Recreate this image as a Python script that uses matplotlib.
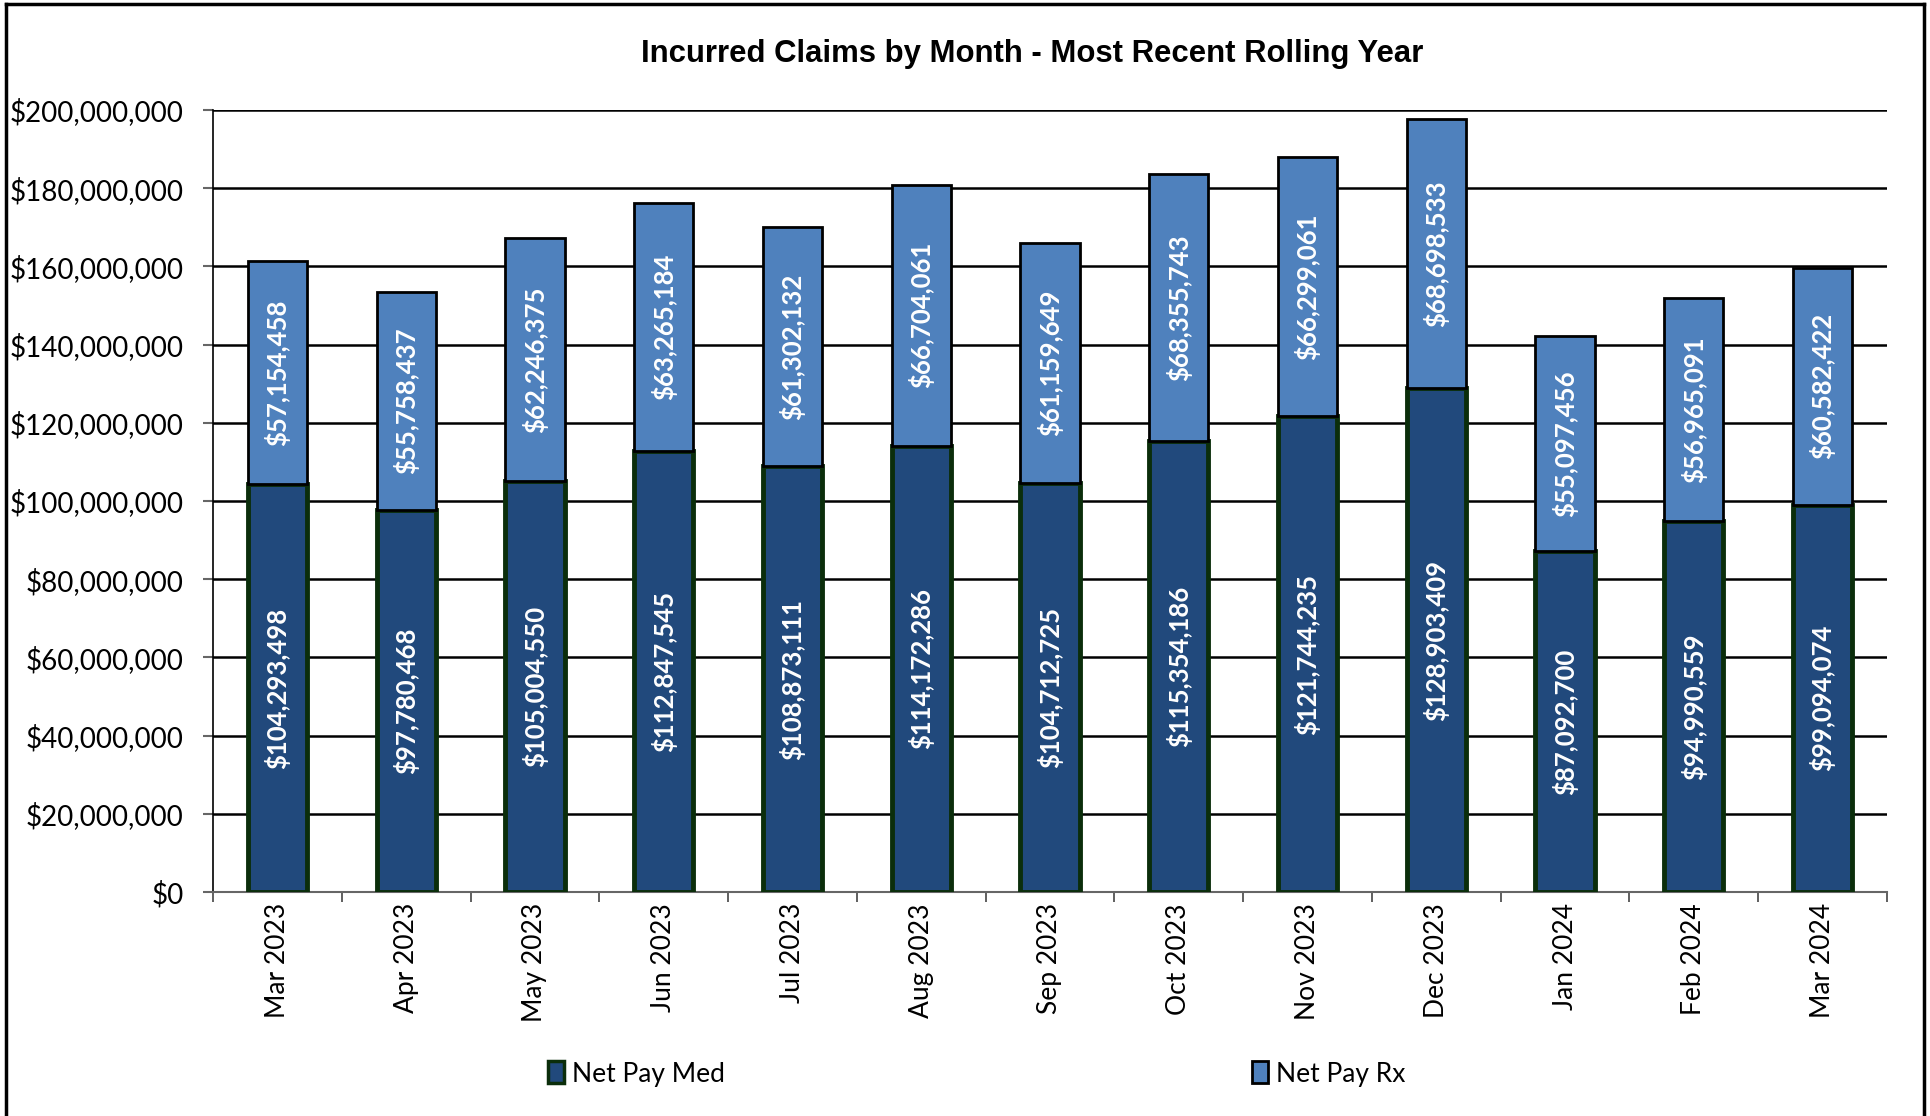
import matplotlib
matplotlib.use("Agg")
import matplotlib.pyplot as plt
from matplotlib.patches import Patch
from matplotlib.lines import Line2D
from matplotlib.ticker import FuncFormatter, MultipleLocator
import numpy as np

months = ["Mar 2023", "Apr 2023", "May 2023", "Jun 2023", "Jul 2023", "Aug 2023",
          "Sep 2023", "Oct 2023", "Nov 2023", "Dec 2023", "Jan 2024", "Feb 2024", "Mar 2024"]
net_pay_med = [104293498, 97780468, 105004550, 112847545, 108873111, 114172286,
               104712725, 115354186, 121744235, 128903409, 87092700, 94990559, 99094074]
net_pay_rx = [57154458, 55758437, 62246375, 63265184, 61302132, 66704061,
              61159649, 68355743, 66299061, 68698533, 55097456, 56965091, 60582422]

MED_COLOR = "#21497C"
MED_EDGE = "#0B2E0B"
RX_COLOR = "#4F81BD"
RX_EDGE = "#000000"
FONT = "Lato"

plt.rcParams['font.family'] = [FONT, 'DejaVu Sans']

fig = plt.figure(figsize=(19.31, 11.16), dpi=100)
TOP = 110
BOT = 892
ax = fig.add_axes([213/1931, 1-BOT/1116, (1887-213)/1931, (BOT-TOP)/1116])

x = np.arange(len(months))
w = 0.46
med = np.array(net_pay_med)
rx = np.array(net_pay_rx)
ax.bar(x, med, w, color=MED_COLOR, edgecolor=MED_EDGE, linewidth=3.5, zorder=3)
ax.bar(x, rx, w, bottom=med, color=RX_COLOR, edgecolor=RX_EDGE, linewidth=2, zorder=3)

for i in range(len(x)):
    ax.text(x[i], med[i]/2, f"${med[i]:,.0f}", rotation=90, ha='center', va='center',
            color='white', fontsize=18.5, fontweight='bold', zorder=4)
    ax.text(x[i], med[i] + rx[i]/2, f"${rx[i]:,.0f}", rotation=90, ha='center', va='center',
            color='white', fontsize=18.5, fontweight='bold', zorder=4)

ax.set_xlim(-0.5, len(months)-0.5)
ax.set_ylim(0, 200000000)
ax.yaxis.set_major_locator(MultipleLocator(20000000))
ax.yaxis.set_major_formatter(FuncFormatter(lambda v, p: f"${v:,.0f}"))
ax.grid(axis='y', color='black', linewidth=1.8, zorder=0)
ax.set_axisbelow(True)

ax.set_xticks(x)
ax.set_xticklabels(months, rotation=90, fontsize=19)
ax.set_xticks(np.arange(-0.5, len(months), 1), minor=True)
ax.tick_params(axis='x', which='major', length=0, pad=8)
ax.tick_params(axis='x', which='minor', length=7, width=1.2, color='#444444')
ax.tick_params(axis='y', labelsize=20, length=7, width=1.5, color='#666666', pad=14)

for s in ['top', 'right']:
    ax.spines[s].set_visible(False)
ax.spines['left'].set_linewidth(1.2)
ax.spines['bottom'].set_linewidth(1.5)
ax.spines['bottom'].set_color('#666666')

fig.text(1032/1931, 1-54/1116, "Incurred Claims by Month - Most Recent Rolling Year",
         ha='center', va='center', fontsize=22.4, fontweight='bold', family='Liberation Sans')

# outer border
fig.add_artist(Line2D([6/1931, 6/1931], [0, 1-4/1116], color='black', lw=2.5, transform=fig.transFigure))
fig.add_artist(Line2D([6/1931, 1924/1931], [1-4/1116, 1-4/1116], color='black', lw=2.5, transform=fig.transFigure))
fig.add_artist(Line2D([1924/1931, 1924/1931], [0, 1-4/1116], color='black', lw=2.5, transform=fig.transFigure))

h_med = Patch(facecolor=MED_COLOR, edgecolor=MED_EDGE, linewidth=2.5, label="Net Pay Med")
h_rx = Patch(facecolor=RX_COLOR, edgecolor=RX_EDGE, linewidth=2, label="Net Pay Rx")
fig.legend(handles=[h_med], loc='center left', bbox_to_anchor=(548/1931, 1-1074/1116),
           frameon=False, fontsize=19, handlelength=0.6, handleheight=0.9, handletextpad=0.3,
           borderpad=0, borderaxespad=0)
fig.legend(handles=[h_rx], loc='center left', bbox_to_anchor=(1252/1931, 1-1074/1116),
           frameon=False, fontsize=19, handlelength=0.6, handleheight=0.9, handletextpad=0.3,
           borderpad=0, borderaxespad=0)

fig.savefig("out.png", dpi=100, facecolor='white')
